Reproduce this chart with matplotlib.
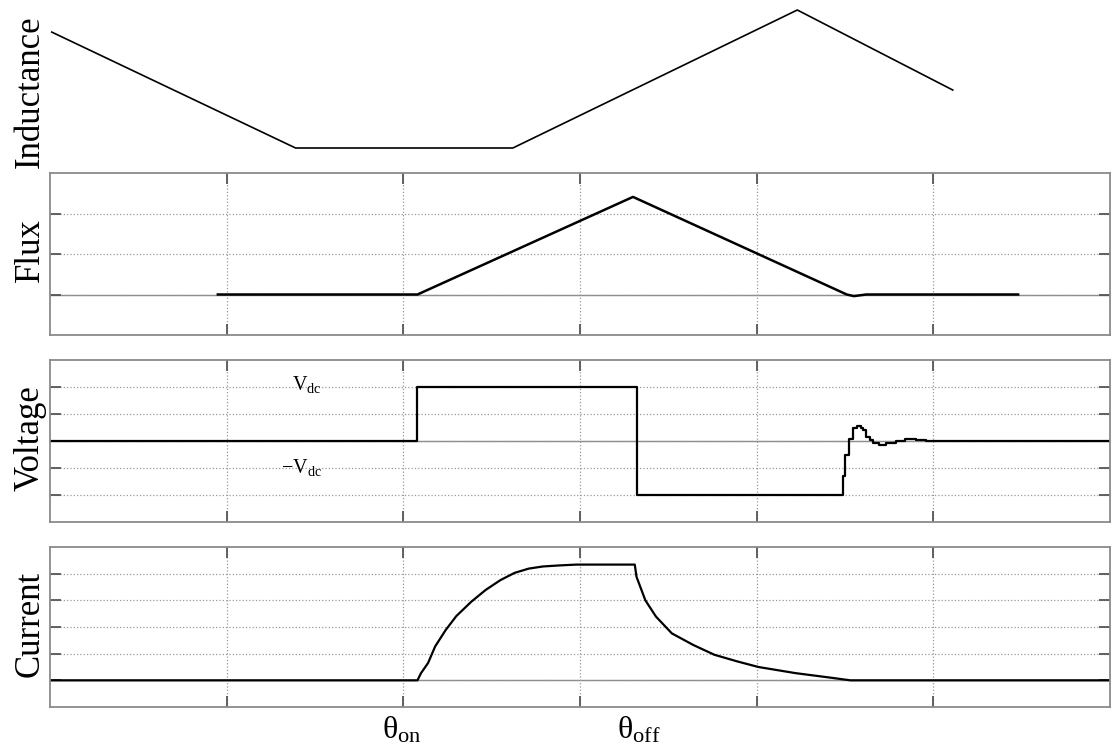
import matplotlib
matplotlib.use("Agg")
import matplotlib.pyplot as plt
from matplotlib import rcParams

rcParams["font.family"] = ["Liberation Serif", "DejaVu Serif"]
rcParams["mathtext.fontset"] = "custom"
rcParams["mathtext.rm"] = "Liberation Serif"
rcParams["mathtext.it"] = "Liberation Serif:italic"

# data, x in grid divisions (6 across), y in grid divisions
ind_x = [0.01, 1.39, 2.62, 4.23, 5.11]
ind_y = [0.84, 0.0, 0.0, 1.0, 0.42]

flux_x = [0.95, 2.08, 3.30, 4.51, 4.55, 4.62, 5.48]
flux_y = [0.0, 0.0, 2.41, 0.0, -0.04, 0.0, 0.0]

volt_x = [0, 2.08, 3.32, 4.49, 4.50, 4.525, 4.545, 4.57, 4.59, 4.60, 4.62,
          4.64, 4.66, 4.69, 4.73, 4.79, 4.84, 4.90, 4.96, 6.0]
volt_y = [0, 2, -2, -1.28, -0.51, 0.09, 0.50, 0.55, 0.50, 0.40, 0.15,
          0.02, -0.07, -0.14, -0.07, 0.0, 0.06, 0.03, 0.0, 0.0]

cur_x = [0, 2.08, 2.10, 2.14, 2.18, 2.24, 2.30, 2.385, 2.466, 2.55, 2.63, 2.71,
         2.79, 2.886, 2.98, 3.19, 3.31, 3.32, 3.37, 3.43, 3.52, 3.64, 3.76,
         3.89, 4.01, 4.22, 4.43, 4.53, 6.0]
cur_y = [0, 0, 0.27, 0.65, 1.27, 1.89, 2.41, 2.95, 3.39, 3.76, 4.03, 4.19,
         4.27, 4.31, 4.34, 4.34, 4.34, 3.88, 3.0, 2.39, 1.76, 1.33, 0.96,
         0.71, 0.50, 0.27, 0.09, 0.0, 0.0]

x_ticks = [1, 2, 3, 4, 5]
theta_x = [1.88, 3.21]
theta_labels = [r"$\mathrm{\theta_{on}}$", r"$\mathrm{\theta_{off}}$"]

W, H = 1112, 747
fig = plt.figure(figsize=(W / 100, H / 100), dpi=100)


def box(top, bottom):
    return [50 / W, 1 - bottom / H, 1060 / W, (bottom - top) / H]


def panel(top, bottom, ylim, yticks):
    ax = fig.add_axes(box(top, bottom))
    ax.set_xlim(0, 6)
    ax.set_ylim(*ylim)
    ax.set_xticks(x_ticks)
    ax.set_yticks(yticks)
    ax.set_xticklabels([])
    ax.set_yticklabels([])
    ax.grid(True, linestyle=":", color="#999999", linewidth=0.9)
    ax.tick_params(direction="in", length=8, width=1.3, color="#555555",
                   top=True, right=True)
    for s in ax.spines.values():
        s.set_color("#8a8a8a")
        s.set_linewidth(1.3)
    ax.axhline(0, color="#8a8a8a", linewidth=1.0, zorder=1)
    return ax


# inductance, no frame
ax0 = fig.add_axes(box(10, 148))
ax0.set_xlim(0, 6)
ax0.set_ylim(0, 1)
ax0.axis("off")
ax0.plot(ind_x, ind_y, color="black", linewidth=1.2, clip_on=False)

ax1 = panel(173, 335, (-1, 3), [0, 1, 2])
ax1.plot(flux_x, flux_y, color="black", linewidth=1.8)

ax2 = panel(360, 522, (-3, 3), [-2, -1, 0, 1, 2])
ax2.plot(volt_x, volt_y, color="black", linewidth=1.6, drawstyle="steps-post")
ax2.text(1.37, 1.89, r"$\mathrm{V_{dc}}$", fontsize=14.5, va="baseline")
ax2.text(1.31, -1.2, r"$\mathrm{-V_{dc}}$", fontsize=14.5, va="baseline")

ax3 = panel(547, 707, (-1, 5), [0, 1, 2, 3, 4])
ax3.plot(cur_x, cur_y, color="black", linewidth=1.6)
for xv, lab in zip(theta_x, theta_labels):
    ax3.text(xv, -0.05, lab, fontsize=23, va="top", ha="left",
             transform=ax3.get_xaxis_transform())

labels = ["Inductance", "Flux", "Voltage", "Current"]
label_y = [92, 250, 438, 624]
for lab, yp in zip(labels, label_y):
    fig.text(39 / W, 1 - yp / H, lab, fontsize=25, rotation=90,
             rotation_mode="anchor", ha="center", va="baseline")

fig.savefig("out.png", dpi=100)
